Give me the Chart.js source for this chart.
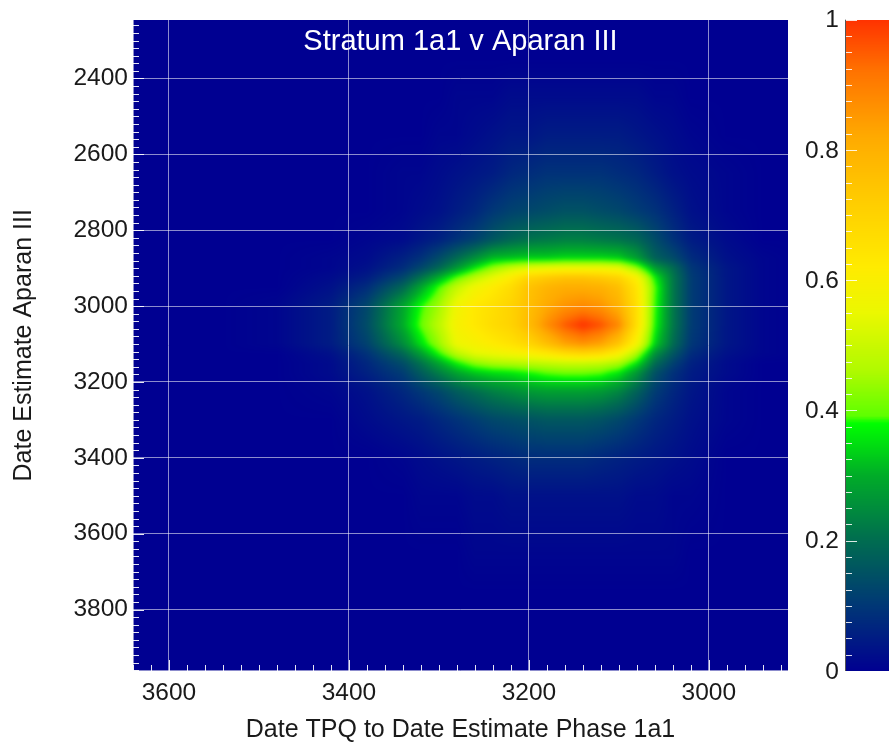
<!DOCTYPE html>
<html><head><meta charset="utf-8">
<script src="https://cdn.jsdelivr.net/npm/chart.js@4"></script>
<style>html,body{margin:0;padding:0;background:#fff;overflow:hidden;}</style>
</head><body>
<canvas id="c" width="889" height="745"></canvas>
<script>
// ---------------- data ----------------
const chartTitle = 'Stratum 1a1 v Aparan III';
const xAxisTitle = 'Date TPQ to Date Estimate Phase 1a1';
const yAxisTitle = 'Date Estimate Aparan III';
const xTicks = [3600, 3400, 3200, 3000];
const yTicks = [2400, 2600, 2800, 3000, 3200, 3400, 3600, 3800];
const cbTicks = [0, 0.2, 0.4, 0.6, 0.8, 1];
const cbLabels = ['0', '0.2', '0.4', '0.6', '0.8', '1'];
// grid node positions (x: Date TPQ to Date Estimate Phase 1a1, y: Date Estimate Aparan III)
const gridX = [2900, 2940, 2980, 3020, 3040, 3060, 3080, 3100, 3120, 3140, 3160, 3180, 3200, 3220, 3240, 3260, 3280, 3300, 3320, 3340, 3380, 3420, 3480, 3540];
const gridY = [2350, 2450, 2550, 2650, 2750, 2825, 2875, 2900, 2925, 2950, 3000, 3050, 3100, 3125, 3150, 3175, 3225, 3300, 3400, 3500, 3650, 3750];
// relative density (x100), one row per gridY value, one column per gridX value
const density = [
  [0, 0,0,0,0,0,0,0,0,0,0,0,0, 0,0,0,0,0,0,0,0,0,0, 0],
  [0, 0,0,0,1,1,2,2,2,2,2,2,2, 2,1,1,1,0,0,0,0,0,0, 0],
  [0, 0,0,1,2,3,4,5,5,5,5,5,4, 4,3,2,1,1,0,0,0,0,0, 0],
  [0, 0,1,2,3,5,7,8,9,9,9,9,8, 7,5,4,3,2,1,1,0,0,0, 0],
  [0, 0,1,3,6,9,11,13,14,15,15,14,13, 12,10,7,5,3,2,1,0,0,0, 0],
  [0, 0,2,5,9,14,19,21,22,23,23,22,21, 19,16,12,9,6,4,2,1,0,0, 0],
  [0, 1,3,8,14,18,28,34,35,35,35,34,34, 33,32,26,20,14,9,6,2,1,0, 0],
  [0, 1,4,10,20,28,44,55,57,57,57,56,54, 50,44,36,27,19,13,8,3,1,0, 0],
  [0, 1,4,11,22,37,60,70,73,75,75,73,70, 62,55,48,40,30,21,13,5,2,0, 0],
  [0, 1,4,11,22,40,64,76,80,81,81,79,75, 67,62,57,49,39,29,19,8,3,0, 0],
  [0, 1,4,11,22,39,66,80,86,88,86,82,76, 70,66,63,57,45,38,29,13,5,1, 0],
  [0, 1,4,11,22,38,66,88,96,100,95,87,77, 70,67,63,59,48,40,30,14,5,1, 0],
  [0, 1,4,10,20,34,58,74,83,86,83,76,69, 65,62,59,56,44,35,25,12,5,1, 0],
  [0, 1,3,8,16,26,46,60,67,69,67,63,60, 58,56,54,48,38,28,19,9,3,0, 0],
  [0, 0,2,6,12,20,36,46,49,50,50,49,48, 47,46,43,37,29,21,14,7,2,0, 0],
  [0, 0,2,5,9,15,27,36,40,41,41,40,38, 36,35,33,29,23,17,11,6,2,0, 0],
  [0, 0,1,4,7,11,18,24,27,28,28,28,27, 25,23,20,17,13,10,7,3,1,0, 0],
  [0, 0,1,3,5,7,10,13,15,16,16,16,15, 14,13,11,9,7,5,4,2,0,0, 0],
  [0, 0,0,2,3,4,5,6,7,8,8,8,8, 7,6,5,4,3,2,1,0,0,0, 0],
  [0, 0,0,1,1,2,2,3,3,3,3,3,3, 3,2,2,1,1,1,0,0,0,0, 0],
  [0, 0,0,0,1,1,1,1,1,1,1,1,1, 1,1,1,0,0,0,0,0,0,0, 0],
  [0, 0,0,0,0,0,0,0,0,0,0,0,0, 0,0,0,0,0,0,0,0,0,0, 0]
];

// ---------------- styling ----------------
const FONT = "'Liberation Sans', Arial, Helvetica, sans-serif";
const cmapStops = [
  [0.00, 0, 0, 145],
  [0.10, 0, 55, 118],
  [0.20, 0, 108, 80],
  [0.30, 0, 172, 40],
  [0.38, 0, 255, 0],
  [0.392, 95, 255, 0],
  [0.46, 175, 250, 0],
  [0.55, 235, 248, 0],
  [0.62, 255, 235, 0],
  [0.72, 255, 205, 0],
  [0.82, 255, 170, 0],
  [0.92, 255, 115, 0],
  [1.00, 255, 50, 0]
];
const LUT = (() => {
  const n = 1024, out = new Uint8ClampedArray(n * 3);
  for (let i = 0; i < n; i++) {
    const v = i / (n - 1);
    let k = 0;
    while (k < cmapStops.length - 2 && v > cmapStops[k + 1][0]) k++;
    const a = cmapStops[k], b = cmapStops[k + 1];
    const f = Math.min(1, Math.max(0, (v - a[0]) / (b[0] - a[0])));
    for (let c = 0; c < 3; c++) out[i * 3 + c] = a[c + 1] + (b[c + 1] - a[c + 1]) * f;
  }
  return out;
})();
function colorIdx(v) { return Math.round(Math.min(1, Math.max(0, v)) * 1023) * 3; }

function locate(arr, v) {
  if (v < arr[0] || v > arr[arr.length - 1]) return null;
  let j = 0;
  while (j < arr.length - 2 && v > arr[j + 1]) j++;
  return [j, (v - arr[j]) / (arr[j + 1] - arr[j])];
}

const points = [];
gridY.forEach((yv, r) => gridX.forEach((xv, c) => points.push({x: xv, y: yv, v: density[r][c] / 100})));

const heatPlugin = {
  id: 'heat',
  beforeDatasetsDraw(chart) {
    const {ctx, chartArea: a, scales: {x, y}} = chart;
    const M = 8;
    const L = Math.round(a.left), T = Math.round(a.top);
    const W = Math.round(a.right) - L, H = Math.round(a.bottom) - T;
    const OW = W + 2 * M, OH = H + 2 * M;
    const off = document.createElement('canvas');
    off.width = OW; off.height = OH;
    const octx = off.getContext('2d');
    const img = octx.createImageData(OW, OH);
    const xs = [], ys = [];
    for (let i = 0; i < OW; i++) xs.push(locate(gridX, x.getValueForPixel(L - M + i + 0.5)));
    for (let j = 0; j < OH; j++) ys.push(locate(gridY, y.getValueForPixel(T - M + j + 0.5)));
    const d = img.data;
    for (let j = 0; j < OH; j++) {
      const ly = ys[j];
      for (let i = 0; i < OW; i++) {
        const lx = xs[i];
        let v = 0;
        if (ly && lx) {
          const r = ly[0], fy = ly[1], c = lx[0], fx = lx[1];
          const a0 = density[r][c] * (1 - fx) + density[r][c + 1] * fx;
          const a1 = density[r + 1][c] * (1 - fx) + density[r + 1][c + 1] * fx;
          v = (a0 * (1 - fy) + a1 * fy) / 100;
        }
        const k = colorIdx(v), p = (j * OW + i) * 4;
        d[p] = LUT[k]; d[p + 1] = LUT[k + 1]; d[p + 2] = LUT[k + 2]; d[p + 3] = 255;
      }
    }
    octx.putImageData(img, 0, 0);
    ctx.save();
    ctx.beginPath();
    ctx.rect(L, T, W, H);
    ctx.clip();
    ctx.filter = 'blur(2px)';
    ctx.drawImage(off, L - M, T - M);
    ctx.restore();
  },
  afterDraw(chart) {
    const {ctx, chartArea: a, scales: {x, y}} = chart;
    ctx.save();
    // inward ticks
    ctx.strokeStyle = 'rgba(255,255,255,0.9)';
    ctx.lineWidth = 1;
    ctx.beginPath();
    for (let v = Math.ceil(x.min / 20) * 20; v <= x.max; v += 20) {
      const px = Math.round(x.getPixelForValue(v)) + 0.5;
      const len = (v % 200 === 0) ? 11 : 6;
      ctx.moveTo(px, a.bottom); ctx.lineTo(px, a.bottom - len);
    }
    for (let v = Math.ceil(y.min / 20) * 20; v <= y.max; v += 20) {
      const py = Math.round(y.getPixelForValue(v)) + 0.5;
      const len = (v % 200 === 0) ? 11 : 6;
      ctx.moveTo(a.left, py); ctx.lineTo(a.left + len, py);
    }
    ctx.stroke();
    // left / bottom edges
    ctx.strokeStyle = 'rgba(255,255,255,0.55)';
    ctx.beginPath();
    ctx.moveTo(a.left + 0.5, a.top); ctx.lineTo(a.left + 0.5, a.bottom);
    ctx.moveTo(a.left, a.bottom - 0.5); ctx.lineTo(a.right, a.bottom - 0.5);
    ctx.stroke();

    // title inside plot
    ctx.fillStyle = '#ffffff';
    ctx.font = `29px ${FONT}`;
    ctx.textAlign = 'center';
    ctx.textBaseline = 'middle';
    ctx.fillText(chartTitle, (a.left + a.right) / 2, a.top + 22);

    // colour bar
    const cbL = 845, cbW = 50, T = a.top, B = a.bottom;
    for (let yy = Math.round(T); yy < Math.round(B); yy++) {
      const v = (B - (yy + 0.5)) / (B - T);
      const k = colorIdx(v);
      ctx.fillStyle = `rgb(${LUT[k]},${LUT[k + 1]},${LUT[k + 2]})`;
      ctx.fillRect(cbL, yy, cbW, 1);
    }
    ctx.strokeStyle = '#555';
    ctx.beginPath(); ctx.moveTo(cbL + 0.5, T); ctx.lineTo(cbL + 0.5, B); ctx.stroke();
    ctx.strokeStyle = 'rgba(255,255,255,0.85)';
    ctx.beginPath();
    for (let i = 0; i <= 40; i++) {
      const v = i / 40;
      const py = Math.round(B - v * (B - T)) + 0.5;
      const len = (i % 8 === 0) ? 11 : 6;
      ctx.moveTo(cbL + 1, py); ctx.lineTo(cbL + 1 + len, py);
    }
    ctx.stroke();
    ctx.fillStyle = '#1a1a1a';
    ctx.font = `24.5px ${FONT}`;
    ctx.textAlign = 'right';
    ctx.textBaseline = 'middle';
    cbTicks.forEach((v, i) => {
      ctx.fillText(cbLabels[i], 839, B - v * (B - T) + 1);
    });
    ctx.restore();
  }
};

const tickFont = {family: FONT, size: 24.5};
const titleFont = {family: FONT, size: 25};

new Chart(document.getElementById('c'), {
  type: 'scatter',
  data: {datasets: [{data: points, pointRadius: 0, pointHoverRadius: 0, showLine: false}]},
  options: {
    responsive: false,
    animation: false,
    devicePixelRatio: 1,
    events: [],
    layout: {padding: {top: 17, right: 101, left: 0, bottom: 0}},
    plugins: {legend: {display: false}, tooltip: {enabled: false}, title: {display: false}},
    scales: {
      x: {
        type: 'linear', min: 2912, max: 3640, reverse: true,
        afterBuildTicks: s => { s.ticks = xTicks.map(v => ({value: v})); },
        afterFit: s => { s.height = 74; },
        ticks: {callback: v => String(v), font: tickFont, color: '#1a1a1a', padding: 8, maxRotation: 0, autoSkip: false},
        grid: {color: 'rgba(255,255,255,0.55)', lineWidth: 1, drawTicks: false, z: 1},
        border: {display: false},
        title: {display: true, text: xAxisTitle, font: titleFont, color: '#1a1a1a', padding: {top: 0, bottom: 0}}
      },
      y: {
        type: 'linear', min: 2245, max: 3962, reverse: true,
        afterBuildTicks: s => { s.ticks = yTicks.map(v => ({value: v})); },
        afterFit: s => { s.width = 133; },
        ticks: {callback: v => String(v), font: tickFont, color: '#1a1a1a', padding: 5, autoSkip: false},
        grid: {color: 'rgba(255,255,255,0.55)', lineWidth: 1, drawTicks: false, z: 1},
        border: {display: false},
        title: {display: true, text: yAxisTitle, font: titleFont, color: '#1a1a1a', padding: {top: 9, bottom: 0}}
      }
    }
  },
  plugins: [heatPlugin]
});
</script>
</body></html>
